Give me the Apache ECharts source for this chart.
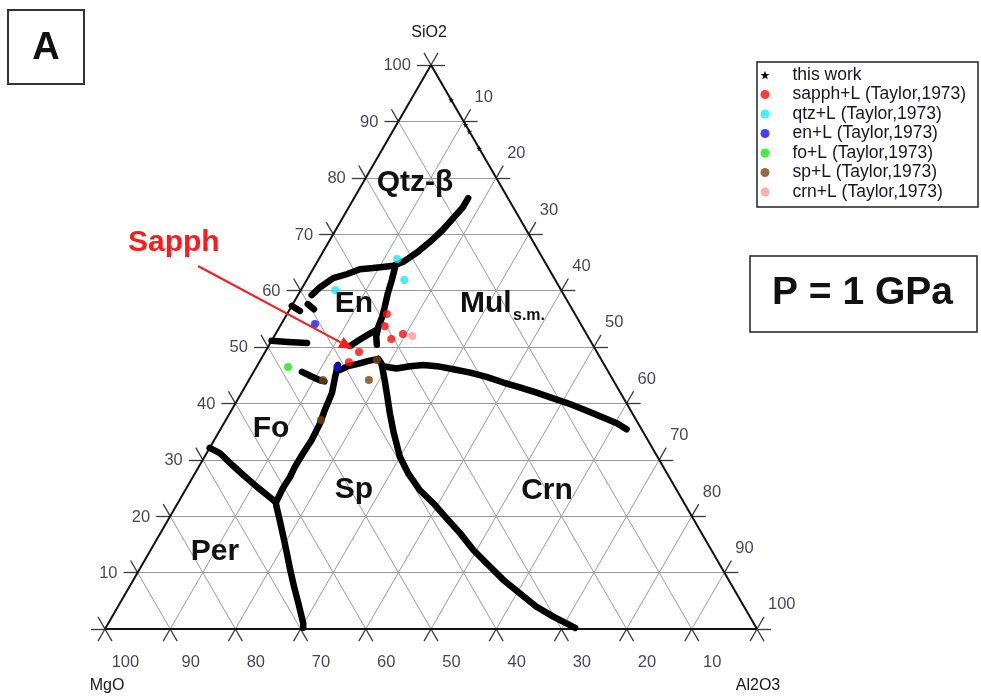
<!DOCTYPE html>
<html><head><meta charset="utf-8">
<script src="https://cdn.jsdelivr.net/npm/echarts@6/dist/echarts.min.js"></script>
<style>html,body{margin:0;padding:0;background:#fff}#c{width:981px;height:698px}</style>
</head><body><div id="c"></div>
<script>
// ---- tick labels ----
const GRID_LEVELS = [0,10,20,30,40,50,60,70,80,90,100];
const SIO2_TICKS = [10,20,30,40,50,60,70,80,90,100];
const AL2O3_TICKS = [10,20,30,40,50,60,70,80,90,100];
const MGO_TICKS = [100,90,80,70,60,50,40,30,20,10];

// ---- "this work" boundaries, points as [SiO2, Al2O3] wt% ----
const qtzBoundary = [[76.4,17.5],[74.8,17.5],[72.9,17.0],[70.7,16.4],[68.6,15.5],[66.8,14.5],[65.1,13.2],[64.4,12.0],[64.2,10.5],[64.0,9.1],[63.8,7.2],[62.9,5.6],[62.2,3.9],[60.6,2.7],[59.2,2.1]];
const enMulBoundary = [[64.2,12.4],[61.9,13.05],[59.6,13.6],[57.1,14.35],[55.3,14.85],[53.5,15.15],[51.8,15.7],[50.4,16.5]];
const enFoBoundary = [[53.0,15.1],[52.1,14.15],[51.1,13.25],[50.2,12.5]];
const enEdgeDash = [[51.1,0.0],[50.9,2.6],[50.7,5.65]];
const qtzEdgeFragA = [[57.3,0.0],[56.4,1.7]];
const qtzEdgeFragB = [[57.6,2.3],[56.7,3.7]];
const foSpShort = [[45.6,7.4],[44.9,9.0],[44.1,10.9],[43.9,11.7]];
const foSpBoundary = [[22.5,14.95],[22.9,14.95],[25.0,14.8],[26.95,14.9],[28.7,14.75],[31.2,14.8],[33.5,14.95],[36.5,14.75],[38.8,14.3],[41.8,13.9],[44.7,12.95],[46.8,12.3]];
const spUpper = [[45.9,13.05],[46.6,14.0],[47.0,15.3],[47.5,16.55],[47.9,17.95]];
const spCrnBoundary = [[47.9,17.95],[47.1,18.85],[44.1,20.85],[41.2,22.7],[38.2,24.6],[34.7,26.95],[30.55,29.95],[27.6,32.7],[24.6,36.0],[22.3,39.2],[19.6,42.6],[17.0,45.95],[14.0,49.5],[11.65,52.7],[8.7,56.75],[6.3,60.5],[3.95,64.2],[2.2,67.65],[0.7,70.95],[0.2,72.0]];
const crnMulBoundary = [[46.6,19.3],[46.2,21.6],[46.6,23.5],[46.8,25.4],[46.6,27.6],[46.05,30.4],[45.45,33.3],[44.7,36.15],[43.7,39.25],[42.85,42.2],[41.9,45.25],[40.9,48.3],[39.9,51.35],[38.7,54.55],[37.5,57.65],[36.5,60.25],[35.4,62.3]];
const perFoBoundary = [[32.1,0.0],[31.2,2.0],[29.4,4.5],[27.3,7.55],[25.2,10.7],[23.8,12.9],[22.5,14.95]];
const perSpBoundary = [[22.5,14.95],[21.7,15.45],[19.3,17.15],[16.4,19.15],[13.4,21.2],[10.5,23.15],[7.5,25.25],[4.6,27.35],[1.0,29.9],[0.2,30.3]];
const silicaEdgePts = [[93.8,6.2],[89.4,10.6],[88.2,11.8],[85.2,14.8]];

// ---- Taylor (1973) points ----
const sapphL = [[55.85,15.3],[53.7,16.05],[51.4,18.2],[52.3,19.55],[49.1,14.4],[47.3,13.75]];
const qtzL = [[65.6,12.0],[61.9,14.95],[60.1,5.25]];
const enL = [[54.1,5.15],[46.45,12.4]];
const foL = [[46.45,4.85]];
const spL = [[44.15,11.35],[44.15,18.4],[47.7,17.85],[37.05,14.6]];
const crnL = [[51.95,21.15]];

// ternary [SiO2, Al2O3] -> cartesian [x, y]
const tern = p => [p[1] + p[0] / 2, p[0]];
const conv = arr => arr.map(tern);

const FONT = '"Liberation Sans", Arial, sans-serif';
const D = 2.15;

function segs(fam, k) {
  let a, b, a2, b2;
  if (fam === 'S') {
    a = [k/2, k]; b = [100 - k/2, k]; a2 = [k/2 - D, k]; b2 = [100 - k/2 + D, k];
  } else if (fam === 'A') {
    const f = s => [k + s/2, s];
    a = f(0); b = f(100 - k); a2 = f(-D); b2 = f(100 - k + D);
  } else {
    const f = s => [100 - k - s/2, s];
    a = f(0); b = f(100 - k); a2 = f(-D); b2 = f(100 - k + D);
  }
  return {inner: [a, b], ext: [[a, a2], [b, b2]]};
}
const gridData = [], tickData = [], edgeData = [];
['S','A','M'].forEach(fam => {
  GRID_LEVELS.forEach(k => {
    const s = segs(fam, k);
    if (k === 0) edgeData.push({coords: s.inner});
    else if (k < 100) gridData.push({coords: s.inner});
    s.ext.forEach(e => tickData.push({coords: e}));
  });
});

const blackCurves = [qtzBoundary, enMulBoundary, enFoBoundary, enEdgeDash, qtzEdgeFragA, qtzEdgeFragB,
  foSpShort, foSpBoundary, spUpper, spCrnBoundary, crnMulBoundary, perFoBoundary, perSpBoundary];

const series = [
  {type:'lines', coordinateSystem:'cartesian2d', silent:true, z:1, clip:false,
   lineStyle:{color:'#9a9a9a', width:1, opacity:1}, data:gridData},
  {type:'lines', coordinateSystem:'cartesian2d', silent:true, z:2, clip:false,
   lineStyle:{color:'#3a3a3a', width:1.3, opacity:1}, data:tickData},
  {type:'lines', coordinateSystem:'cartesian2d', silent:true, z:3, clip:false,
   lineStyle:{color:'#111', width:2, opacity:1}, data:edgeData},
];
blackCurves.forEach(c => series.push({
  name:'this work', type:'line', data:conv(c), symbol:'none', clip:false, z:5,
  lineStyle:{color:'#000', width:6.5, cap:'round', join:'round'}, itemStyle:{color:'#000'}
}));
const STAR = 'path://M5,0 L6.18,3.5 L10,3.6 L7,5.9 L8.1,9.5 L5,7.4 L1.9,9.5 L3,5.9 L0,3.6 L3.82,3.5 Z';
series.push({name:'this work', type:'scatter', data:conv(silicaEdgePts), symbol:STAR, symbolSize:6, z:5, clip:false, itemStyle:{color:'#000'}});

const pts = [
  ['sapph+L (Taylor,1973)', sapphL, '#ff0a0a'],
  ['qtz+L (Taylor,1973)', qtzL, '#19e8f5'],
  ['en+L (Taylor,1973)', enL, '#1414ff'],
  ['fo+L (Taylor,1973)', foL, '#19e619'],
  ['sp+L (Taylor,1973)', spL, '#7a4510'],
  ['crn+L (Taylor,1973)', crnL, '#ff9a9a'],
];
pts.forEach(([n, d, c]) => series.push({name:n, type:'scatter', data:conv(d), symbol:'circle', symbolSize:8, z:8, clip:false, itemStyle:{color:c}}));

const lblBase = {type:'scatter', symbolSize:0.1, itemStyle:{color:'transparent'}, silent:true, z:4, clip:false};
series.push(Object.assign({}, lblBase, {
  data: SIO2_TICKS.map(v => ({value: tern([v, 0]), name: String(v)})),
  label:{show:true, position:[-20, 1], align:'right', verticalAlign:'middle', formatter:p => p.name,
         fontFamily:FONT, fontSize:16.5, color:'#151525'}
}));
series.push(Object.assign({}, lblBase, {
  data: AL2O3_TICKS.map(v => ({value: tern([100 - v, v]), name: String(v)})),
  label:{show:true, position:[11, -24], align:'left', verticalAlign:'middle', formatter:p => p.name,
         fontFamily:FONT, fontSize:16.5, color:'#151525'}
}));
series.push(Object.assign({}, lblBase, {
  data: MGO_TICKS.map(v => ({value: tern([0, 100 - v]), name: String(v)})),
  label:{show:true, position:[20.5, 34], align:'center', verticalAlign:'middle', formatter:p => p.name,
         fontFamily:FONT, fontSize:16.5, color:'#151525'}
}));

function txt(x, y, t, size, opts) {
  return Object.assign({type:'text', x, y, z:20, silent:true,
    style:Object.assign({text:t, fontFamily:FONT, fontSize:size, fontWeight:'bold', fill:'#111', align:'center', verticalAlign:'middle'}, (opts||{}))});
}
const aS = [198, 266], aT = [353, 349];
const dx = aT[0]-aS[0], dy = aT[1]-aS[1], L = Math.hypot(dx, dy), ux = dx/L, uy = dy/L;
const hb = [aT[0]-14*ux, aT[1]-14*uy];
const graphics = [
  {type:'rect', shape:{x:8, y:10, width:76, height:74}, style:{fill:'none', stroke:'#333', lineWidth:2}, z:20},
  txt(46, 49, 'A', 38),
  txt(128, 243, 'Sapph', 30, {align:'left', fill:'#ff1a1a'}),
  {type:'line', shape:{x1:aS[0], y1:aS[1], x2:hb[0], y2:hb[1]}, style:{stroke:'#ff1a1a', lineWidth:2}, z:20},
  {type:'polygon', shape:{points:[aT, [hb[0]-6*uy, hb[1]+6*ux], [hb[0]+6*uy, hb[1]-6*ux]]}, style:{fill:'#ff1a1a'}, z:20},
  txt(415, 183, 'Qtz-β', 30),
  txt(354, 304, 'En', 30),
  txt(460, 304, 'Mul', 30, {align:'left'}),
  txt(513, 316, 's.m.', 16, {align:'left'}),
  txt(271, 429, 'Fo', 30),
  txt(354, 490, 'Sp', 30),
  txt(547, 491, 'Crn', 30),
  txt(215, 552, 'Per', 30),
  txt(429, 33, 'SiO2', 16, {fontWeight:'normal', fill:'#151525'}),
  txt(107, 686, 'MgO', 16, {fontWeight:'normal', fill:'#151525'}),
  txt(758, 686, 'Al2O3', 16, {fontWeight:'normal', fill:'#151525'}),
  {type:'rect', shape:{x:757, y:62, width:221, height:145}, style:{fill:'none', stroke:'#222', lineWidth:1.5}, z:20},
  {type:'rect', shape:{x:750, y:256, width:227, height:76}, style:{fill:'none', stroke:'#222', lineWidth:1.5}, z:20},
  txt(772, 293, 'P = 1 GPa', 39, {align:'left'}),
];

const chart = echarts.init(document.getElementById('c'), null, {renderer:'canvas'});
chart.setOption({
  animation:false,
  backgroundColor:'#fff',
  grid:{left:105, top:65, width:652, height:564},
  xAxis:{type:'value', min:0, max:100, show:false},
  yAxis:{type:'value', min:0, max:100, show:false},
  legend:{
    orient:'vertical', left:760.5, top:65.5, padding:0, itemGap:0.5,
    itemWidth:9, itemHeight:9, selectedMode:false,
    formatter: n => '{p|}' + n,
    textStyle:{fontFamily:FONT, fontSize:17.5, color:'#151525', lineHeight:19,
      rich:{p:{width:18}}},
    data:[{name:'this work', icon:STAR}].concat(pts.map(p => ({name:p[0], icon:'circle'})))
  },
  series,
  graphic:graphics
});
</script></body></html>
